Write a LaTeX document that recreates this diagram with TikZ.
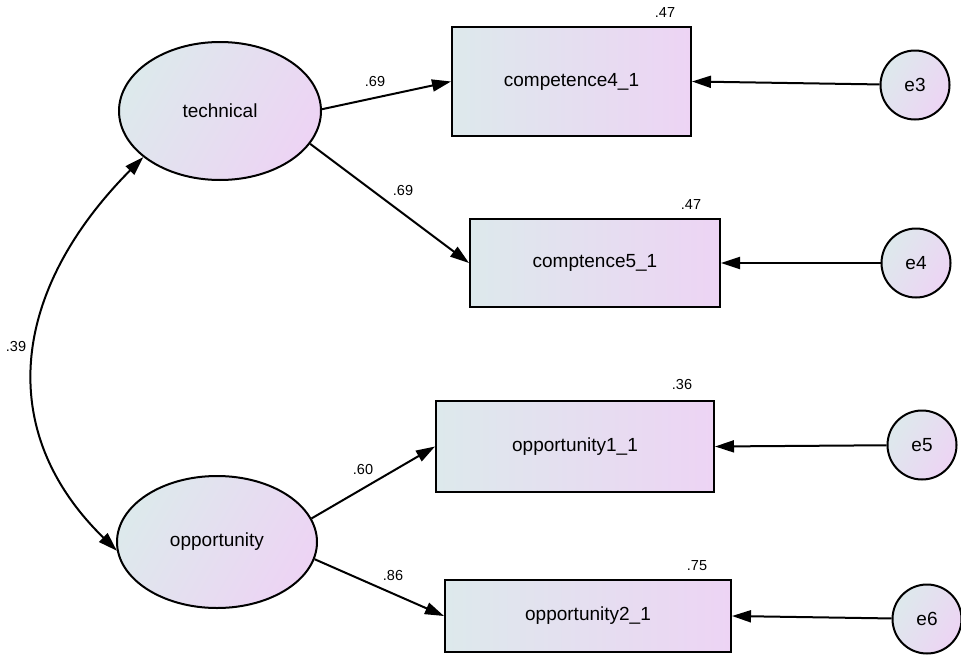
\documentclass[tikz,border=0pt]{standalone}
\usepackage{fontspec}
\setmainfont{Liberation Sans}
\usetikzlibrary{arrows.meta,shapes.geometric}
\definecolor{gleft}{RGB}{221,233,236}
\definecolor{gright}{RGB}{237,212,244}
\tikzset{
  base/.style={draw=black,line width=2pt,font=\fontsize{19}{22}\selectfont,inner sep=0pt},
  latent/.style={base,ellipse,shading=axis,left color=gleft,right color=gright,shading angle=60},
  observed/.style={base,rectangle,left color=gleft,right color=gright},
  errc/.style={base,circle,minimum size=69pt,left color=gleft,right color=gright,shading angle=60},
  coef/.style={font=\fontsize{14.5}{16}\selectfont,inner sep=0pt},
  path/.style={line width=2pt,-{Triangle[length=19pt,width=12pt]}},
  cov/.style={line width=2pt,{Triangle[length=19pt,width=12pt]}-{Triangle[length=19pt,width=12pt]}}
}
\begin{document}
\begin{tikzpicture}[x=1pt,y=-1pt]
\useasboundingbox (0,0) rectangle (961,656);
% latent variables
\node[latent,minimum width=202pt,minimum height=138pt] (tech) at (220,111) {technical};
\node[latent,minimum width=200pt,minimum height=132pt] (opp) at (217,542) {opportunity};
% observed variables
\node[observed,minimum width=239pt,minimum height=109pt] (c4) at (571.5,81.5) {competence4\_1};
\node[observed,minimum width=250pt,minimum height=88pt] (c5) at (595,263) {comptence5\_1};
\node[observed,minimum width=278pt,minimum height=91pt] (o1) at (575,446.5) {opportunity1\_1};
\node[observed,minimum width=286pt,minimum height=72pt] (o2) at (588,616) {opportunity2\_1};
% errors
\node[errc] (e3) at (915,85) {e3};
\node[errc] (e4) at (916,263) {e4};
\node[errc] (e5) at (922,445) {e5};
\node[errc] (e6) at (927,619) {e6};
% squared multiple correlations
\node[coef] (r4) at (665,13) {.47};
\node[coef] (r5) at (691,205) {.47};
\node[coef] (r1) at (682,385) {.36};
\node[coef] (r2) at (697,566) {.75};
% loadings
\draw[path] (tech.1) -- (c4.west);
\draw[path] (tech.-20) -- (c5.west);
\draw[path] (opp.14) -- (o1.west);
\draw[path] (opp.-10) -- (o2.west);
\node[coef] (l1) at (375,82) {.69};
\node[coef] (l2) at (403,191) {.69};
\node[coef] (l3) at (363,470) {.60};
\node[coef] (l4) at (393,576) {.86};
% error paths
\draw[path] (e3) -- (c4.east);
\draw[path] (e4) -- (c5.east);
\draw[path] (e5) -- (o1.east);
\draw[path] (e6) -- (o2.east);
% covariance
\draw[cov] (tech.211) .. controls +(-132,133) and +(-123,-120) .. (opp.185);
\node[coef] (cv) at (16,347) {.39};
\end{tikzpicture}
\end{document}
